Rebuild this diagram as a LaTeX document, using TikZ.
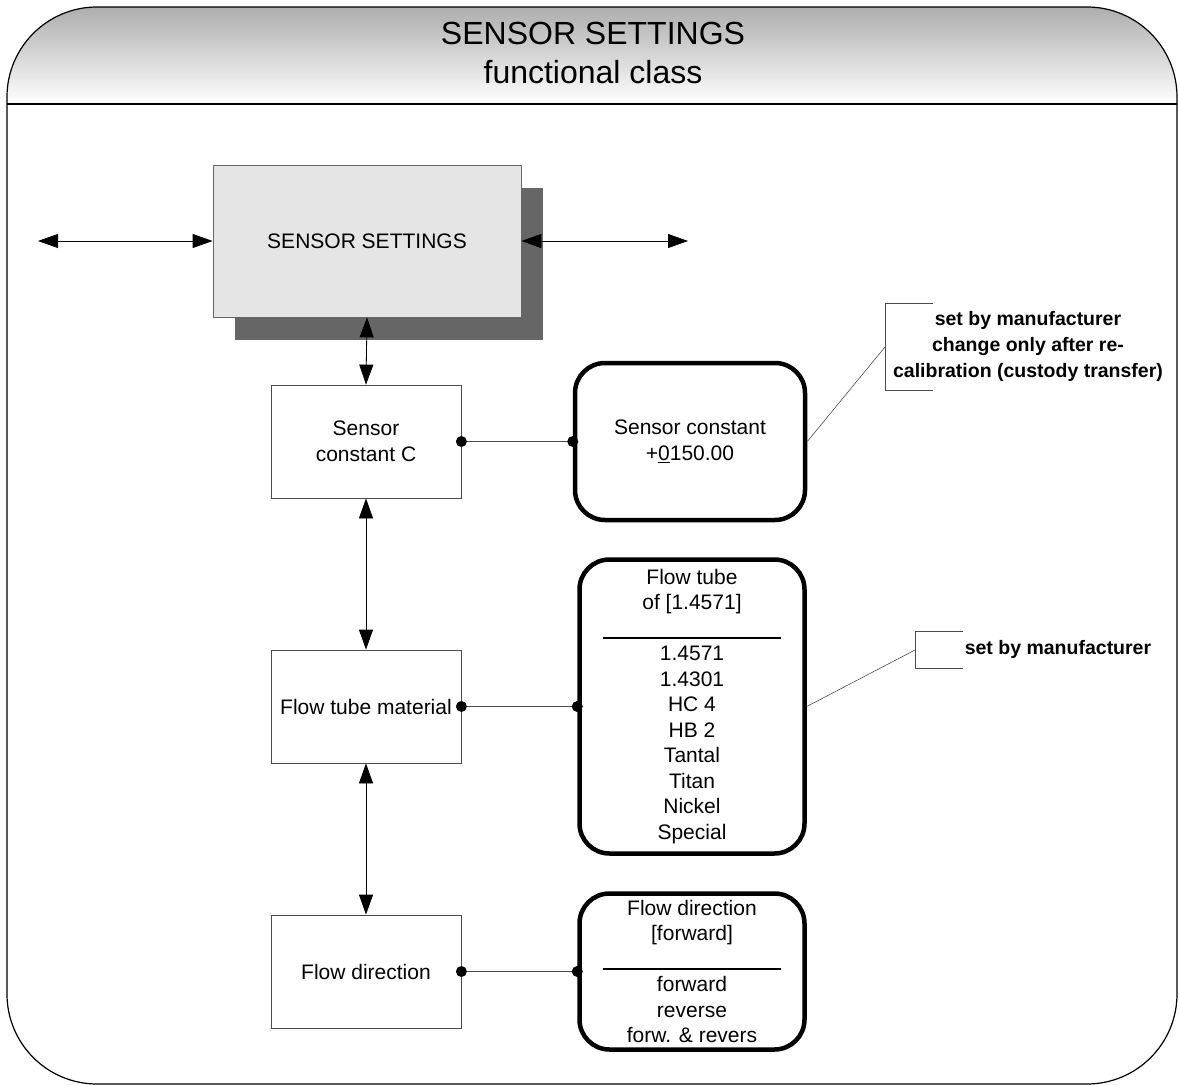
\documentclass[tikz,border=0pt]{standalone}
\usepackage{fontspec}
\setmainfont{Liberation Sans}
\usepackage{tikz}
\usetikzlibrary{arrows.meta,shadows}

\begin{document}
\begin{tikzpicture}[x=1pt,y=-1pt,>={Triangle[length=20pt,width=14pt]},
  ttl/.style={align=center,font=\fontsize{32}{39}\selectfont},
  main/.style={draw=black!60,line width=0.8pt,fill=black!10,minimum width=308pt,minimum height=152pt,font=\fontsize{21}{25.5}\selectfont,
    drop shadow={shadow xshift=22pt,shadow yshift=-23pt,fill=black!60,opacity=1}},
  attr/.style={draw=black!70,line width=0.8pt,fill=white,align=center,minimum width=190pt,minimum height=113pt,font=\fontsize{21}{25.5}\selectfont},
  val/.style={draw,line width=4.5pt,rounded corners=30pt,align=center,inner sep=0pt,minimum width=225pt,font=\fontsize{21}{25.5}\selectfont},
  note/.style={align=center,font=\fontsize{19.5}{26}\selectfont\bfseries},
  link/.style={draw=black!70,line width=0.8pt},
  lead/.style={draw=black!70,line width=0.6pt}]
\useasboundingbox (0,0) rectangle (1179,1086);
\begin{scope}
  \clip[rounded corners=90pt] (7,7) rectangle (1177,1084);
  \fill[top color=black!32,bottom color=white] (7,7) rectangle (1177,104);
\end{scope}
\draw[line width=1.2pt,rounded corners=90pt] (7,7) rectangle (1177,1084);
\draw[line width=1.2pt] (7,104) -- (1177,104);
\node[ttl] (title) at (593,53) {SENSOR SETTINGS\\functional class};
\node[main] (ss) at (367,241) {SENSOR SETTINGS};
\node[attr] (sc)  at (366,441.5) {Sensor\\constant C};
\node[attr] (ftm) at (366,706.5) {Flow tube material};
\node[attr] (fd)  at (366,971.5) {Flow direction};
\node[val,minimum width=230pt,minimum height=157pt] (scv) at (690,441.5) {Sensor constant\\+\underline{0}150.00};
\node[val,minimum height=294pt] (ftv) at (692,706.5) {Flow tube\\of [1.4571]\\\rule[-3.5pt]{178pt}{1.6pt}\\1.4571\\1.4301\\HC 4\\HB 2\\Tantal\\Titan\\Nickel\\Special};
\node[val,minimum height=156pt] (fdv) at (692,971.5) {Flow direction\\{}[forward]\\\rule[-3.5pt]{178pt}{1.6pt}\\forward\\reverse\\forw. \& revers};
\coordinate (inL)  at (38,241);
\coordinate (outR) at (688,241);
\draw[<->,link,draw=black] (inL) -- (ss.west);
\draw[<->,link,draw=black] (ss.east) -- (outR);
\draw[<->,link,draw=black] (ss.south) -- (sc.north);
\draw[<->,link,draw=black] (sc.south) -- (ftm.north);
\draw[<->,link,draw=black] (ftm.south) -- (fd.north);
\foreach \a/\b in {sc/scv,ftm/ftv,fd/fdv}{
  \draw[link] (\a.east) -- (\b.west);
  \fill (\a.east) circle (5.5pt) (\b.west) circle (5.5pt);
}
\node[note] (n1) at (1028,346) {set by manufacturer\\change only after re-\\calibration (custody transfer)};
\node[note] (n2) at (1058,649) {set by manufacturer};
\coordinate (br1) at (885,347);
\coordinate (br2) at (915,650);
\draw[lead] (933,303) -| (885,390) -- (933,390);
\draw[lead] (963,631) -| (915,668) -- (963,668);
\draw[lead] (scv.east) -- (br1);
\draw[lead] (ftv.east) -- (br2);
\end{tikzpicture}
\end{document}
